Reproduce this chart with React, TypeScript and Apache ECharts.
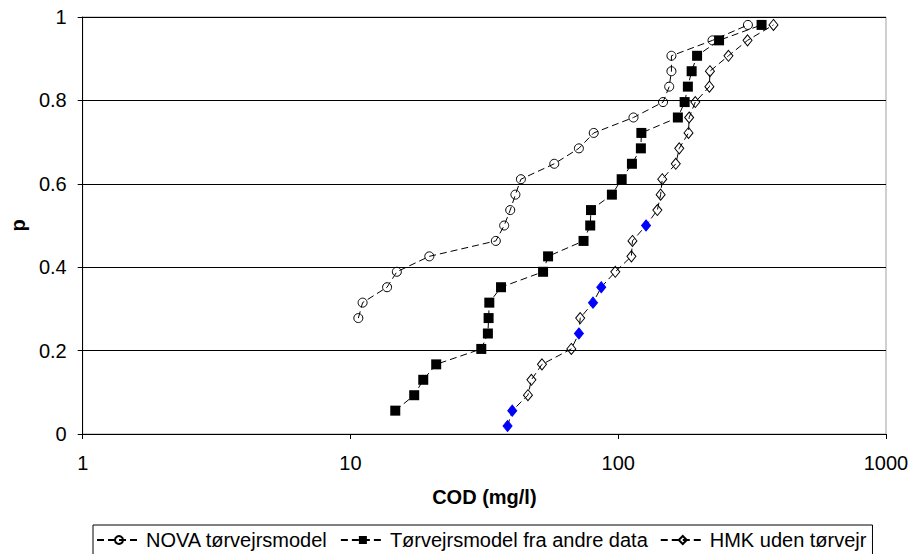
import React, { useEffect, useRef } from "react";
import * as echarts from "echarts";

const pLevels = [0.019, 0.056, 0.093, 0.130, 0.167, 0.204, 0.241, 0.278, 0.315, 0.352, 0.389, 0.426, 0.463, 0.500, 0.537, 0.574, 0.611, 0.648, 0.685, 0.722, 0.759, 0.796, 0.833, 0.870, 0.907, 0.944, 0.981];

const novaP = pLevels.slice(7);
const novaCOD = [10.7, 11.1, 13.7, 14.9, 19.7, 34.9, 37.5, 39.5, 41.3, 43.3, 57.7, 71.3, 81, 114, 147, 155, 158, 158, 225, 305];

const andreP = pLevels.slice(1);
const andreCOD = [14.7, 17.3, 18.7, 20.9, 30.8, 32.6, 32.8, 33.0, 36.5, 52.4, 54.7, 74.2, 78.6, 79.1, 94.7, 103, 112.5, 121.5, 122, 167, 177, 182, 188, 197, 238, 343];

const hmkP = pLevels;
const hmkCOD = [38.6, 40.2, 46.0, 47.4, 51.9, 66.8, 71.3, 72.1, 80.5, 86.4, 97.5, 112, 113, 127, 140, 144, 146, 164, 169, 183, 184, 194, 219, 220, 258, 304, 380];
const hmkBlueIdx = [0, 1, 6, 8, 9, 13];

const seriesNames = ["NOVA tørvejrsmodel", "Tørvejrsmodel fra andre data", "HMK uden tørvejr"];
const xTickLabels = ["1", "10", "100", "1000"];

const FONT = "'Liberation Sans', Arial, sans-serif";
const FS = 20;

export default function App() {
  const ref = useRef<HTMLDivElement>(null);
  useEffect(() => {
    if (!ref.current) return;
    const chart = echarts.init(ref.current, null, { renderer: "svg" });
    const dash = [7, 4];
    const lineStyle = { color: "#000", width: 1, type: dash };
    const option = {
      animation: false,
      backgroundColor: "#fff",
      textStyle: { fontFamily: FONT },
      grid: {
        left: 82,
        right: 33,
        top: 17,
        bottom: 120,
        show: true,
        borderColor: "#a0a0a0",
        borderWidth: 1,
      },
      legend: {
        top: 525,
        left: 93,
        data: seriesNames,
        borderColor: "#000",
        borderWidth: 1,
        borderRadius: 0,
        padding: [5, 6, 8, 3],
        itemWidth: 44,
        itemHeight: 10,
        itemGap: 12,
        textStyle: { fontFamily: FONT, fontSize: FS, color: "#000" },
      },
      xAxis: {
        type: "log",
        logBase: 10,
        min: 1,
        max: 1000,
        name: "COD (mg/l)",
        nameLocation: "middle",
        nameGap: 53,
        nameTextStyle: { fontFamily: FONT, fontSize: FS, fontWeight: "bold", color: "#000" },
        axisLine: { lineStyle: { color: "#000", width: 1 } },
        axisTick: { show: true, length: 5, inside: false, lineStyle: { color: "#000" } },
        minorTick: { show: false },
        splitLine: { show: false },
        axisLabel: {
          fontFamily: FONT,
          fontSize: FS,
          color: "#000",
          margin: 19,
          formatter: (v: number) => {
            const idx = Math.round(Math.log10(v));
            return xTickLabels[idx] ?? String(v);
          },
        },
      },
      yAxis: {
        type: "value",
        min: 0,
        max: 1,
        interval: 0.2,
        name: "p",
        nameLocation: "middle",
        nameGap: 54,
        nameRotate: 90,
        nameTextStyle: { fontFamily: FONT, fontSize: FS, fontWeight: "bold", color: "#000" },
        axisLine: { show: true, lineStyle: { color: "#000", width: 1 } },
        axisTick: { show: true, length: 5, inside: false, lineStyle: { color: "#000" } },
        splitLine: { show: true, lineStyle: { color: "#000", width: 1 } },
        axisLabel: { fontFamily: FONT, fontSize: FS, color: "#000", margin: 16 },
      },
      series: [
        {
          name: seriesNames[0],
          type: "line",
          data: novaCOD.map((x, i) => [x, novaP[i]]),
          symbol: "circle",
          symbolSize: 9,
          lineStyle,
          itemStyle: { color: "rgba(255,255,255,0)", borderColor: "#000", borderWidth: 1 },
          z: 3,
        },
        {
          name: seriesNames[1],
          type: "line",
          data: andreCOD.map((x, i) => [x, andreP[i]]),
          symbol: "rect",
          symbolSize: 10,
          lineStyle,
          itemStyle: { color: "#000", borderColor: "#000", borderWidth: 0 },
          z: 4,
        },
        {
          name: seriesNames[2],
          type: "line",
          data: hmkCOD.map((x, i) => {
            const blue = hmkBlueIdx.includes(i);
            return blue
              ? { value: [x, hmkP[i]], itemStyle: { color: "#0000ff", borderColor: "#0000ff" } }
              : [x, hmkP[i]];
          }),
          symbol: "diamond",
          symbolSize: [9, 11],
          lineStyle,
          itemStyle: { color: "rgba(255,255,255,0)", borderColor: "#000", borderWidth: 1 },
          z: 5,
        },
      ],
    };
    chart.setOption(option as any);
    return () => chart.dispose();
  }, []);
  return (
    <div
      ref={ref}
      style={{ position: "fixed", left: 0, top: 0, width: 919, height: 554 }}
    />
  );
}
